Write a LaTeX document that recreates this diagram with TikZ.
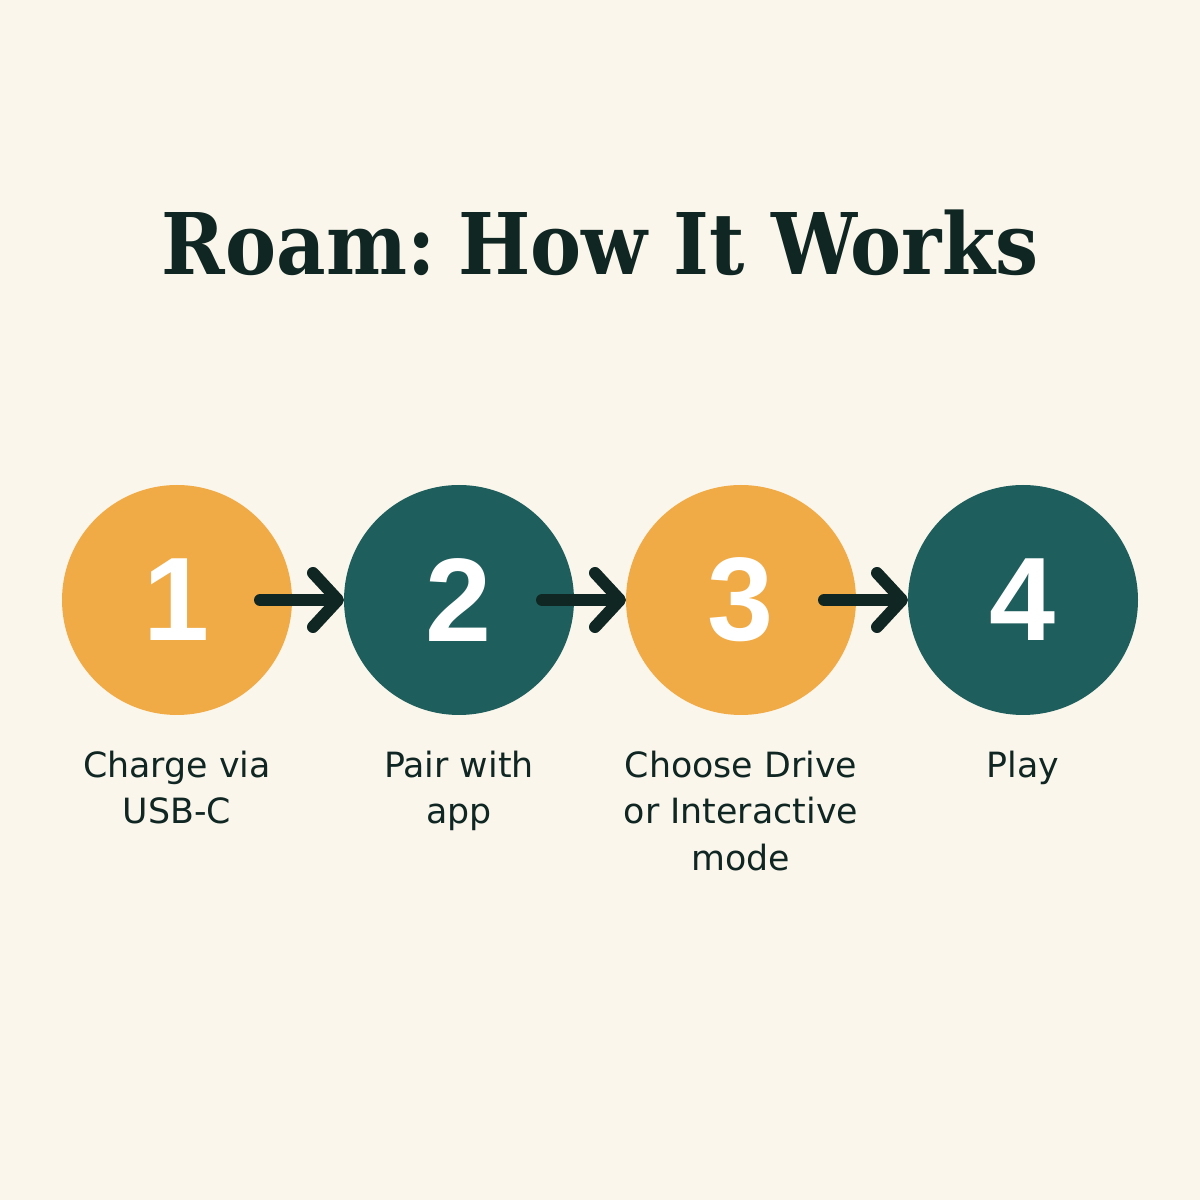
\documentclass[tikz,border=0pt]{standalone}
\usepackage{fontspec}
\setsansfont{DejaVu Sans}
\newfontfamily\titlefont{DejaVu Serif Condensed}[BoldFont={DejaVu Serif Condensed Bold}]
\newfontfamily\numfont{Liberation Sans}
\usetikzlibrary{positioning,arrows.meta}
\definecolor{cream}{HTML}{FAF6EC}
\definecolor{amber}{HTML}{F0AB46}
\definecolor{teal}{HTML}{1E5E5C}
\definecolor{ink}{HTML}{0F2622}
\tikzstyle{stepA} = [circle, fill=amber, minimum size=2.3cm, inner sep=0pt, outer sep=0pt, text=white, font=\numfont\bfseries\fontsize{33.8pt}{36pt}\selectfont]
\tikzstyle{stepB} = [stepA, fill=teal]
\tikzstyle{caption} = [inner sep=0pt, align=center, text=ink, font=\sffamily\fontsize{9.9pt}{13.3pt}\selectfont]
\tikzstyle{flow} = [draw=ink, line width=1.2mm, line cap=round, -{Straight Barb[length=2.5mm,width=5.4mm,line cap=round,line join=round]}]

\begin{document}
\begin{tikzpicture}[node distance=0.52cm]

	\fill[cream] (0,0) rectangle (12,12);
	\useasboundingbox (0,0) rectangle (12,12);

	\node[anchor=base, text=ink, font=\titlefont\bfseries\fontsize{24.2pt}{28pt}\selectfont] (title) at (6,9.25) {Roam:\kern-0.15em{} How It Works};

	\node[stepA] (s1) at (1.77,6) {1};
	\node[stepB, right=of s1] (s2) {2};
	\node[stepA, right=of s2] (s3) {3};
	\node[stepB, right=of s3] (s4) {4};

	\node[caption, below=0.35cm of s1] (l1) {Charge via\\USB-C};
	\node[caption, below=0.35cm of s2] (l2) {Pair with\\app};
	\node[caption, below=0.35cm of s3] (l3) {Choose Drive\\or Interactive\\mode};
	\node[caption, below=0.35cm of s4] (l4) {Play};

	\draw[flow] ([xshift=-0.32cm]s1.east) -- (s2.west);
	\draw[flow] ([xshift=-0.32cm]s2.east) -- (s3.west);
	\draw[flow] ([xshift=-0.32cm]s3.east) -- (s4.west);
\end{tikzpicture}
\end{document}
